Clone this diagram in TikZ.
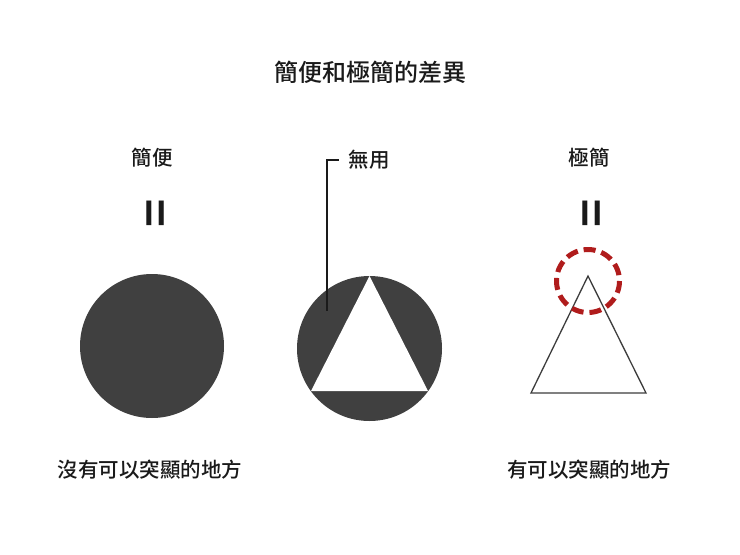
\documentclass[tikz,border=0pt]{standalone}
\usepackage{xcolor}
\usepackage{fontspec}
\usepackage{tikz}
\newfontfamily\cjk{Noto Sans CJK TC}[BoldFont={Noto Sans CJK TC Medium}]
\newfontfamily\cjkheavy{Noto Sans CJK TC Bold}
\usetikzlibrary{shapes,arrows,positioning,calc}
\definecolor{ink}{HTML}{1A1A1A}
\definecolor{darkfill}{HTML}{404040}
\definecolor{accentred}{HTML}{B01C1C}
\tikzset{
    title/.style={font=\cjk\bfseries\fontsize{24}{24}\selectfont, text=ink},
    label/.style={font=\cjk\bfseries\fontsize{20.5}{20.5}\selectfont, text=ink},
    same/.style={font=\cjkheavy\fontsize{48}{48}\selectfont, text=ink, rotate=90}
}
\begin{document}
\begin{tikzpicture}[x=1pt, y=-1pt]
    \useasboundingbox [fill=white] (0,0) rectangle (740,555);
    % Title
    \node [title] (heading) at (370,72) {簡便和極簡的差異};
    % Simple
    \node [label] (simple) at (152,158) {簡便};
    \node [same] (simpleeq) at (160,213) {=};
    \fill [darkfill] (152,346) circle (72);
    \node [label] (nothing) at (150,470) {沒有可以突顯的地方};
    % Useless part
    \node [label] (useless) at (369,160) {無用};
    \fill [darkfill] (369.5,348.5) circle (72.5);
    \fill [white] (369.5,276) -- (311,391) -- (428,391) -- cycle;
    \coordinate (uselessend) at (327,311);
    \draw [line width=1.5pt, ink] ([xshift=-6pt]useless.west) -| (uselessend);
    % Minimal
    \node [label] (minimal) at (589,158) {極簡};
    \node [same] (minimaleq) at (596,213) {=};
    \draw [line width=1.3pt, ink!85] (588,276) -- (531,393) -- (646,393) -- cycle;
    \draw [line width=5pt, accentred, dash pattern=on 12pt off 6pt] (588,281) circle (31.5);
    \node [label] (something) at (589,470) {有可以突顯的地方};
\end{tikzpicture}
\end{document}
